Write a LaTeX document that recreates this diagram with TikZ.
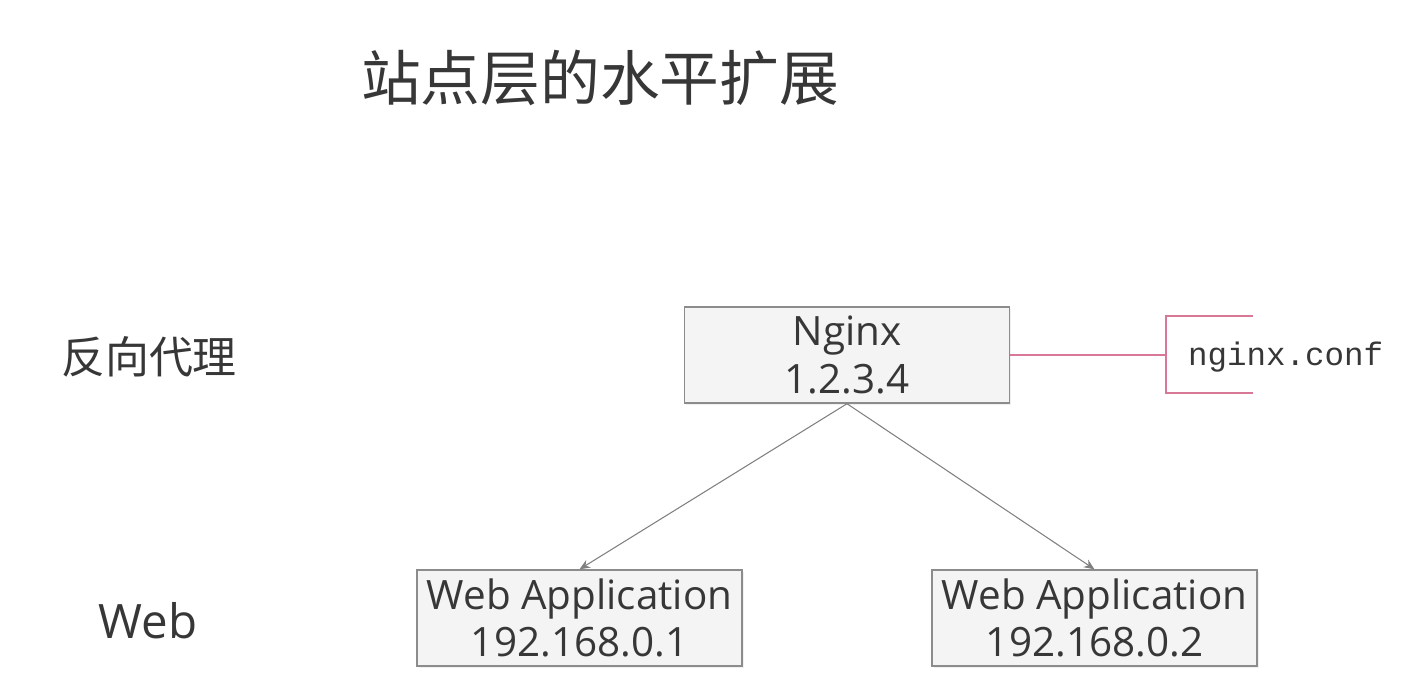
\documentclass[tikz,border=0pt]{standalone}
\usepackage{fontspec}
\setmainfont{Open Sans}
\newfontfamily\cjk{Noto Sans CJK SC}
\newfontfamily\conffont{Liberation Mono}
\usetikzlibrary{arrows.meta,shadows}

\definecolor{boxline}{RGB}{140,140,140}
\definecolor{boxfill}{RGB}{244,244,244}
\definecolor{conflink}{RGB}{215,120,150}
\definecolor{textgray}{RGB}{55,55,55}

\begin{document}
\begin{tikzpicture}[x=0.02cm, y=-0.02cm,
    box/.style={draw=boxline, fill=boxfill, line width=0.8pt, minimum width=325*0.02cm,
      minimum height=96*0.02cm, align=center, inner sep=0pt, text=textgray,
      font=\fontsize{23}{27}\selectfont,
      drop shadow={opacity=0.12, shadow xshift=1pt, shadow yshift=-1pt}},
    layer/.style={text=textgray, font=\cjk\fontsize{25}{30}\selectfont},
    link/.style={draw=gray, line width=0.6pt, -{Stealth[length=6pt, width=5pt]}}]
    \useasboundingbox (0,0) rectangle (1412,698);

    \node[text=textgray, font=\cjk\fontsize{34}{40}\selectfont] (title) at (600,78) {站点层的水平扩展};

    \node[layer] (proxy) at (149,357) {反向代理};
    \node[layer, font=\fontsize{27}{30}\selectfont] (web) at (148,621) {Web};

    \node[box] (nginx) at (847,355) {Nginx\\1.2.3.4};
    \node[box] (web1) at (579.5,618) {Web Application\\192.168.0.1};
    \node[box] (web2) at (1094.5,618) {Web Application\\192.168.0.2};

    \draw[link] (nginx.south) -- (web1.north);
    \draw[link] (nginx.south) -- (web2.north);

    \coordinate (brace) at (1166,355);
    \draw[conflink, line width=0.9pt] (nginx.east) -- (brace);
    \draw[conflink, line width=0.9pt] (1253,316) -- (1166,316) -- (1166,393) -- (1253,393);
    \node[anchor=west, text=textgray, font=\conffont\fontsize{18.5}{22}\selectfont] (conf) at (1182,357) {nginx.conf};
  \end{tikzpicture}
\end{document}
